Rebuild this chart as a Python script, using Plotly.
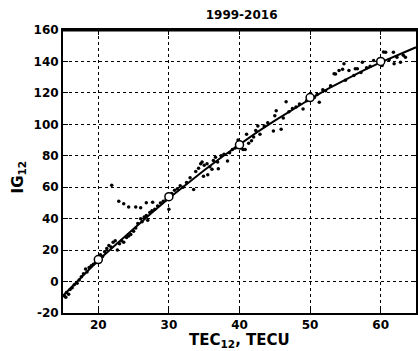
import plotly.graph_objects as go

# Observed points (TEC12, IG12)
obs_tec = [15.2, 15.4, 15.5, 15.8, 16.0, 16.3, 16.6, 17.0, 17.3, 17.6, 17.9, 18.2, 18.4, 18.7, 19.0,
           19.3, 19.6, 20.0, 20.3, 20.6, 20.9, 21.2, 21.5, 21.8, 22.1, 22.4, 22.7, 23.0, 23.3, 23.6,
           24.0, 24.3, 24.6, 25.0, 25.3, 25.6, 26.0, 26.2, 26.5, 26.8, 27.0, 27.3, 27.6, 28.0, 28.4,
           28.8, 29.2, 29.6, 30.0, 30.4, 30.8, 31.2, 31.6, 32.0, 32.5, 33.0, 33.5, 33.8, 34.2, 34.5,
           34.7, 35.0, 34.9, 35.5, 35.4, 35.8, 36.1, 36.3, 36.6, 36.9, 37.0, 37.4, 37.8, 38.3, 38.6,
           39.0, 39.4, 39.8, 40.2, 40.5, 40.8, 41.0, 41.3, 41.7, 42.0, 42.3, 42.6, 42.9, 43.5, 44.0,
           44.8, 45.0, 45.2, 45.9, 46.2, 46.6, 47.0, 47.5, 48.0, 48.5, 49.0, 49.5, 50.2, 50.6, 51.0,
           51.3, 51.8, 52.2, 52.9, 53.4, 53.6, 54.1, 54.6, 54.8, 55.0, 55.5, 56.2, 56.4, 56.7, 57.2,
           57.4, 58.0, 58.5, 59.0, 59.7, 60.2, 60.4, 60.7, 61.2, 61.8, 61.9, 62.3, 62.8, 63.2, 63.5,
           21.9, 22.9, 23.6, 24.3, 25.3, 26.0, 26.8, 27.7]
obs_ig = [-9, -10, -7, -8, -5, -4, -2, -1, 1, 3, 5, 8, 6, 9, 10,
          11, 12, 15, 17, 16, 19, 21, 23, 22, 25, 26, 20, 24, 26, 25,
          28, 29, 30, 32, 34, 37, 40, 38, 41, 42, 39, 44, 45, 46, 48,
          50, 51, 52, 46, 56, 58, 59, 61, 60, 63, 66, 58.6, 70, 72, 75,
          76, 74, 67, 68, 75, 73, 71.4, 77, 79, 76, 71.8, 80, 81, 76.7, 82,
          84, 85, 90, 85, 84, 84, 93.7, 88, 89.5, 92, 96, 99, 93.7, 99, 101,
          95.8, 105.4, 108.6, 96.9, 104, 114.4, 108, 110, 111, 113, 109.7, 115, 118, 117, 119,
          114, 122, 121.4, 124.6, 132.1, 132, 134.2, 135, 138.5, 128, 134.2, 131, 135.3, 135.3, 133,
          139.5, 136, 137, 140.6, 139.5, 137.4, 146, 145.9, 141, 145.9, 138.5, 142.7, 139.5, 144, 142.7,
          61.3, 51.1, 49.5, 47.5, 47.5, 46.9, 50.1, 50.5]

# Fitted curve
fit_tec = [15, 17.5, 20, 22.5, 25, 27.5, 30, 32.5, 35, 37.5, 40, 42.5, 45, 47.5, 50,
           52.5, 55, 57.5, 60, 62.5, 65]
fit_ig = [-9.0, 2.2, 13.5, 23.5, 33.7, 43.5, 53.0, 62.0, 70.8, 79.2, 87.3, 95.0, 102.4, 109.4, 116.1,
          122.5, 128.5, 134.1, 139.4, 144.4, 149.0]

# Open-circle markers on the curve
mark_tec = [20, 30, 40, 50, 60]
mark_ig = [14, 54, 87, 117, 140]

x_ticks = [20, 30, 40, 50, 60]
y_ticks = [-20, 0, 20, 40, 60, 80, 100, 120, 140, 160]

FONT = "DejaVu Sans"

fig = go.Figure()
fig.add_trace(go.Scatter(x=obs_tec, y=obs_ig, mode="markers",
                         marker=dict(size=3.5, color="black"), showlegend=False))
fig.add_trace(go.Scatter(x=fit_tec, y=fit_ig, mode="lines",
                         line=dict(color="black", width=2), showlegend=False))
fig.add_trace(go.Scatter(x=mark_tec, y=mark_ig, mode="markers",
                         marker=dict(size=8, color="white", line=dict(color="black", width=1.5)),
                         showlegend=False))

axis_common = dict(showline=True, linecolor="black", linewidth=2, mirror="ticks",
                   ticks="inside", ticklen=5, tickcolor="black", tickwidth=1,
                   showgrid=True, gridcolor="black", griddash="dot", gridwidth=1,
                   zeroline=False,
                   tickfont=dict(family=FONT, size=12, color="black", weight="bold"))

fig.update_xaxes(range=[15, 65], tickvals=x_ticks, ticktext=[str(v) for v in x_ticks],
                 **axis_common)
fig.update_yaxes(range=[-20, 160], tickvals=y_ticks, ticktext=[str(v) for v in y_ticks],
                 **axis_common)

fig.update_layout(
    width=418, height=351,
    margin=dict(l=63, r=0, t=30, b=38),
    paper_bgcolor="white", plot_bgcolor="white",
    title=dict(text="1999-2016", x=0.578, xanchor="center", y=1 - 15 / 351, yanchor="middle",
               font=dict(family=FONT, size=12, color="black", weight="bold")),
    shapes=[dict(type="line", xref="paper", yref="paper", x0=0, x1=1, y0=1, y1=1,
                 line=dict(color="black", width=3))],
    annotations=[
        dict(text="TEC<sub>12</sub>, TECU", xref="paper", yref="paper", x=0.5, y=-0.057,
             xanchor="center", yanchor="top", showarrow=False,
             font=dict(family=FONT, size=15, color="black", weight="bold")),
        dict(text="IG<sub>12</sub>", xref="paper", yref="paper", x=-45 / 355, y=0.48,
             xanchor="center", yanchor="middle", textangle=-90, showarrow=False,
             font=dict(family=FONT, size=15, color="black", weight="bold")),
    ],
)

fig.write_html("out.html")
